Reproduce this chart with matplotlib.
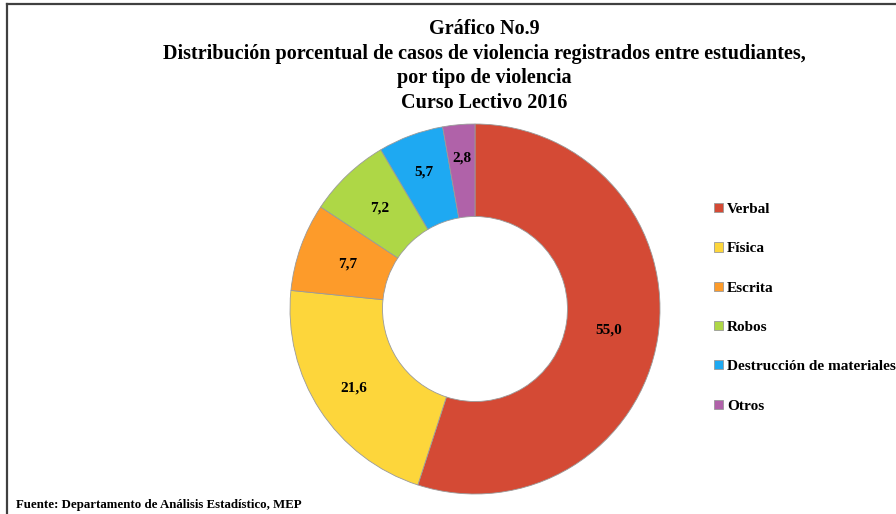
import numpy as np
import matplotlib.pyplot as plt
from matplotlib.lines import Line2D

plt.rcParams["font.family"] = ["Liberation Serif", "DejaVu Serif"]

W, H = 896, 514

categorias = ["Verbal", "Física", "Escrita", "Robos", "Destrucción de materiales", "Otros"]
porcentajes = [55.0, 21.6, 7.7, 7.2, 5.7, 2.8]
etiquetas = ["55,0", "21,6", "7,7", "7,2", "5,7", "2,8"]
colores = ["#D44A35", "#FDD63B", "#FD9B2A", "#AED746", "#1EA9F2", "#B062A9"]
# distancia de cada etiqueta al centro (fraccion del radio)
dist_etiquetas = [0.73, 0.78, 0.73, 0.75, 0.79, 0.82]

titulo = ("Gráfico No.9\n"
          "Distribución porcentual de casos de violencia registrados entre estudiantes,\n"
          "por tipo de violencia\n"
          "Curso Lectivo 2016")
fuente = "Fuente: Departamento de Análisis Estadístico, MEP"

fig = plt.figure(figsize=(W / 100, H / 100), dpi=100)

# marco del grafico (solo arriba e izquierda visibles)
fig.add_artist(Line2D([7 / W, 7 / W], [0, 1 - 4 / H], color="#404040", lw=1.6))
fig.add_artist(Line2D([7 / W, 1], [1 - 4 / H, 1 - 4 / H], color="#404040", lw=1.6))

cx, cy, r = 475, 309, 185
ax = fig.add_axes([(cx - r) / W, (H - cy - r) / H, 2 * r / W, 2 * r / H])
wedges, _ = ax.pie(porcentajes, colors=colores, startangle=90, counterclock=False,
                   radius=1.0, wedgeprops=dict(width=0.5, edgecolor="#9a9a9a", linewidth=0.6))
ax.set_xlim(-1, 1)
ax.set_ylim(-1, 1)
ax.set_aspect("equal")
ax.axis("off")

for w, txt, rr in zip(wedges, etiquetas, dist_etiquetas):
    mid = np.radians((w.theta1 + w.theta2) / 2)
    ax.text(rr * np.cos(mid), rr * np.sin(mid), txt,
            ha="center", va="center", fontsize=11, fontweight="bold", color="black")

fig.text(484 / W, 1 - 66 / H, titulo, ha="center", va="center", fontsize=14.5,
         fontweight="bold", linespacing=1.32)

fig.text(16 / W, 1 - 505 / H, fuente, ha="left", va="center", fontsize=9.3, fontweight="bold")

leg = fig.legend(wedges, categorias, loc="upper left", bbox_to_anchor=(708 / W, 1 - 197 / H),
                 frameon=False, prop=dict(size=11, weight="bold"), handlelength=0.55,
                 handleheight=0.55, handletextpad=0.3, labelspacing=1.72, borderaxespad=0)

fig.savefig("out.png", dpi=100)
